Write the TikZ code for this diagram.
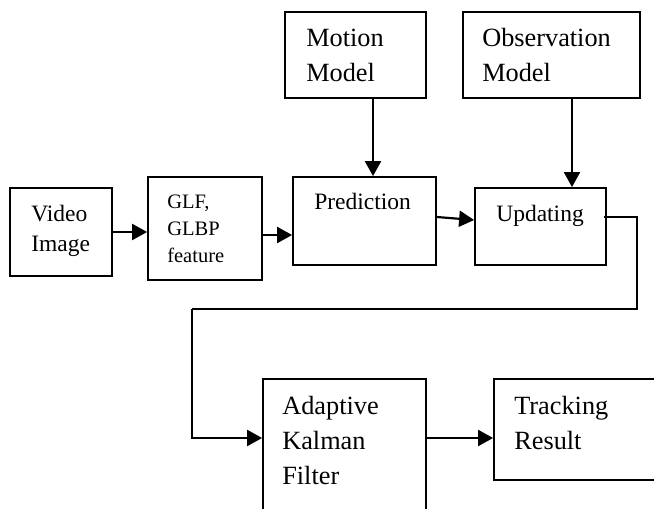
\documentclass[tikz,border=0pt]{standalone}
\usepackage{fontspec}
\setmainfont{Liberation Serif}
\usetikzlibrary{arrows.meta}

\begin{document}
\begin{tikzpicture}[x=1pt, y=-1pt,
    box/.style={draw, line width=1.8pt, inner sep=0pt},
    lbl/.style={inner sep=0pt, anchor=base west, align=left},
    flow/.style={line width=2.2pt, -{Triangle[length=15pt, width=16pt]}},
    back/.style={line width=1.7pt}]

% Define text sizes
\def\smallsize{\fontsize{20.5}{27}\selectfont}
\def\midsize{\fontsize{23.5}{30}\selectfont}
\def\bigsize{\fontsize{26.3}{35}\selectfont}

% Fix the picture size
\useasboundingbox (0,0) rectangle (654,509);
\clip (0,0) rectangle (654,509);

% Draw the boxes
\node[box, minimum width=102pt, minimum height=88pt] (video) at (61,232) {};
\node[box, minimum width=114pt, minimum height=103pt] (feat) at (205,228.5) {};
\node[box, minimum width=141pt, minimum height=86pt] (motion) at (355.5,55) {};
\node[box, minimum width=143pt, minimum height=88pt] (pred) at (364.5,221) {};
\node[box, minimum width=177pt, minimum height=86pt] (obs) at (551.5,55) {};
\node[box, minimum width=131pt, minimum height=77pt] (upd) at (540.5,226.5) {};
\node[box, minimum width=163pt, minimum height=141pt] (akf) at (344.5,449.5) {};
\node[box, minimum width=170pt, minimum height=101pt] (track) at (579,429.5) {};

% Write the box texts (anchored at the last line)
\node[lbl, font=\midsize] (videotxt) at ([xshift=22pt, yshift=-64pt]video.north west) {Video\\Image};
\node[lbl, font=\smallsize] (feattxt) at ([xshift=20pt, yshift=-86pt]feat.north west) {GLF,\\GLBP\\feature};
\node[lbl, font=\bigsize] (motiontxt) at ([xshift=22pt, yshift=-70pt]motion.north west) {\fontsize{26.3}{34}\selectfont Motion\\Model};
\node[lbl, font=\bigsize] (obstxt) at ([xshift=20pt, yshift=-70pt]obs.north west) {\fontsize{26.3}{34}\selectfont Observation\\Model};
\node[lbl, font=\midsize] (predtxt) at ([xshift=22pt, yshift=-33pt]pred.north west) {Prediction};
\node[lbl, font=\midsize] (updtxt) at ([xshift=22pt, yshift=-34pt]upd.north west) {Updating};
\node[lbl, font=\bigsize] (akftxt) at ([xshift=20pt, yshift=-106pt]akf.north west) {Adaptive\\Kalman\\Filter};
\node[lbl, font=\bigsize] (tracktxt) at ([xshift=21pt, yshift=-71pt]track.north west) {Tracking\\Result};

% Draw the forward arrows
\draw[flow] (video.east) -- (video.east -| feat.west);
\draw[flow] ([yshift=-6.5pt]feat.east) -- ([yshift=-6.5pt]feat.east -| pred.west);
\draw[flow] ([xshift=17.5pt]motion.south) -- ([xshift=17.5pt]motion.south |- pred.north);
\draw[flow] ([yshift=4pt]pred.east) -- ([yshift=6.5pt]upd.west);
\draw[flow] ([xshift=20.5pt]obs.south) -- ([xshift=20.5pt]obs.south |- upd.north);
\draw[flow] ([yshift=11.5pt]akf.east) -- ([yshift=11.5pt]akf.east -| track.west);

% Draw the feedback line from updating to the filter
\coordinate (backR) at (637,309);
\coordinate (backL) at (192,309);
\draw[back] ([xshift=-3pt, yshift=9.5pt]upd.east) -| (backR) -- (backL);
\draw[flow] (backL) |- ([yshift=11.5pt]akf.west);

\end{tikzpicture}
\end{document}
